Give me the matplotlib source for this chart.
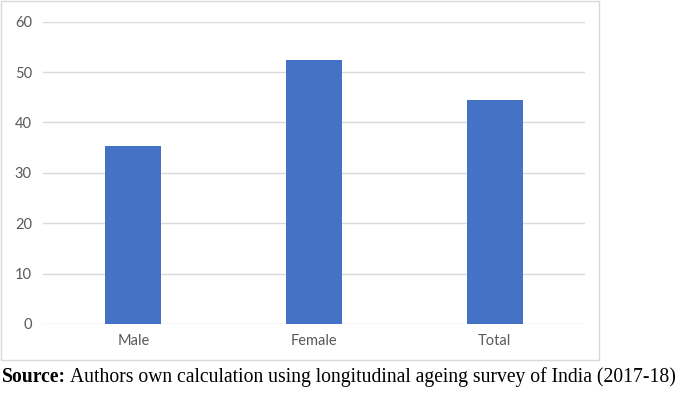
import matplotlib
matplotlib.use("Agg")
import matplotlib.pyplot as plt
from matplotlib.patches import Rectangle

categories = ["Male", "Female", "Total"]
values = [35.4, 52.4, 44.5]
yticks = [0, 10, 20, 30, 40, 50, 60]

fig = plt.figure(figsize=(6.86, 3.98), dpi=100)
ax = fig.add_axes([0.0627, 0.186, 0.7903, 0.7595])

ax.bar(range(len(categories)), values, width=0.31, color="#4472C4", zorder=3)
ax.set_xlim(-0.5, len(categories) - 0.5)
ax.set_ylim(0, 60)
ax.set_yticks(yticks)
ax.set_xticks(range(len(categories)))
ax.set_xticklabels(categories)
ax.yaxis.grid(True, color="#d9d9d9", linewidth=1.0, zorder=0)
for s in ax.spines.values():
    s.set_visible(False)
ax.tick_params(length=0, labelsize=10.5, labelcolor="#595959", pad=8)
ax.tick_params(axis="x", pad=7)
for lbl in ax.get_xticklabels() + ax.get_yticklabels():
    lbl.set_family("Lato")

# chart frame
fig.patches.append(Rectangle((0.002, 1 - 360 / 398), 598 / 686, 359 / 398,
                             transform=fig.transFigure, fill=False,
                             edgecolor="#d9d9d9", linewidth=1.0))

y_src = 1 - 377 / 398
t1 = fig.text(0.003, y_src, "Source:", family="Liberation Serif",
              fontweight="bold", fontsize=14.1, va="center", ha="left")
fig.canvas.draw()
bb = t1.get_window_extent(fig.canvas.get_renderer())
x2 = (bb.x1 + 4) / fig.bbox.width
fig.text(x2, y_src,
         "Authors own calculation using longitudinal ageing survey of India (2017-18)",
         family="Liberation Serif", fontsize=14.1, va="center", ha="left")

fig.savefig("out.png", dpi=100)
